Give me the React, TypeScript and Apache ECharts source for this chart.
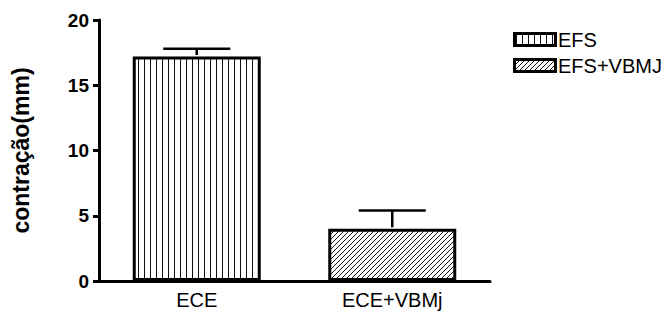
import React, { useEffect, useRef } from "react";
import * as echarts from "echarts";

const categories = ["ECE", "ECE+VBMj"];
const seriesNames = ["EFS", "EFS+VBMJ"];
const means = [17.2, 4.0];
const errors = [0.6, 1.4];
const yTicks = { min: 0, max: 20, interval: 5 };

function makeVertical(): HTMLCanvasElement {
  const c = document.createElement("canvas");
  c.width = 6;
  c.height = 6;
  const ctx = c.getContext("2d")!;
  ctx.fillStyle = "#fff";
  ctx.fillRect(0, 0, 6, 6);
  ctx.fillStyle = "#111";
  ctx.fillRect(0, 0, 1, 6);
  return c;
}

function makeDiagonal(): HTMLCanvasElement {
  const s = 5;
  const c = document.createElement("canvas");
  c.width = s;
  c.height = s;
  const ctx = c.getContext("2d")!;
  ctx.fillStyle = "#fff";
  ctx.fillRect(0, 0, s, s);
  ctx.strokeStyle = "#111";
  ctx.lineWidth = 1;
  ctx.beginPath();
  ctx.moveTo(-1, s + 1);
  ctx.lineTo(s + 1, -1);
  ctx.moveTo(-1, 1);
  ctx.lineTo(1, -1);
  ctx.moveTo(s - 1, s + 1);
  ctx.lineTo(s + 1, s - 1);
  ctx.stroke();
  return c;
}

export default function App() {
  const ref = useRef<HTMLDivElement>(null);
  useEffect(() => {
    if (!ref.current) return;
    const chart = echarts.init(ref.current, undefined, { renderer: "svg" });
    const patterns = [
      { image: makeVertical(), repeat: "repeat" },
      { image: makeDiagonal(), repeat: "repeat" },
    ];
    const font = "Liberation Sans, Arial, sans-serif";
    const barSeries = seriesNames.map((name, i) => ({
      name,
      type: "bar",
      barWidth: 128,
      barGap: "-100%",
      data: categories.map((_, j) => (j === i ? means[j] : "-")),
      itemStyle: {
        color: patterns[i] as any,
        borderColor: "#000",
        borderWidth: 3,
      },
      z: 2,
    }));
    const legendGraphics: any[] = [];
    seriesNames.forEach((name, i) => {
      const y = 33.5 + i * 26;
      legendGraphics.push({
        type: "rect",
        shape: { x: 514.5, y, width: 41, height: 12 },
        style: { fill: patterns[i] as any, stroke: "#000", lineWidth: 3 },
      });
      legendGraphics.push({
        type: "text",
        x: 558,
        y: y + 6,
        style: {
          text: name,
          fontSize: 20,
          fontFamily: font,
          fill: "#000",
          verticalAlign: "middle",
          align: "left",
        },
      });
    });
    chart.setOption({
      animation: false,
      textStyle: { fontFamily: font },
      grid: { left: 99, right: 179, top: 20, bottom: 46, containLabel: false },
      graphic: legendGraphics,
      xAxis: {
        type: "category",
        data: categories,
        axisLine: { lineStyle: { color: "#000", width: 3 } },
        axisTick: { alignWithLabel: true, length: 6, lineStyle: { width: 3, color: "#000" } },
        axisLabel: { fontSize: 20, color: "#000", margin: 9, fontFamily: font },
      },
      yAxis: {
        type: "value",
        min: yTicks.min,
        max: yTicks.max,
        interval: yTicks.interval,
        name: "contração(mm)",
        nameLocation: "middle",
        nameGap: 67,
        nameTextStyle: { fontSize: 23, fontWeight: "bold", color: "#000", fontFamily: font },
        splitLine: { show: false },
        axisLine: { show: true, lineStyle: { color: "#000", width: 3 } },
        axisTick: { show: true, length: 6, lineStyle: { width: 3, color: "#000" } },
        axisLabel: { fontSize: 19, fontWeight: "bold", color: "#000", margin: 10, fontFamily: font },
      },
      series: [
        ...barSeries,
        {
          type: "custom",
          name: "err",
          z: 3,
          data: categories.map((_, j) => [j, means[j], errors[j]]),
          renderItem: (params: any, api: any) => {
            const x = api.value(0);
            const m = api.value(1);
            const e = api.value(2);
            const base = api.coord([x, m]);
            const top = api.coord([x, m + e]);
            const half = 33.5;
            const style = { stroke: "#000", lineWidth: 2.5 };
            return {
              type: "group",
              children: [
                { type: "line", shape: { x1: base[0], y1: base[1] - 1.5, x2: top[0], y2: top[1] }, style },
                { type: "line", shape: { x1: top[0] - half, y1: top[1], x2: top[0] + half, y2: top[1] }, style },
              ],
            };
          },
        },
      ],
    } as any);
    return () => chart.dispose();
  }, []);
  return <div ref={ref} style={{ width: 669, height: 327, position: "absolute", left: 0, top: 0 }} />;
}
